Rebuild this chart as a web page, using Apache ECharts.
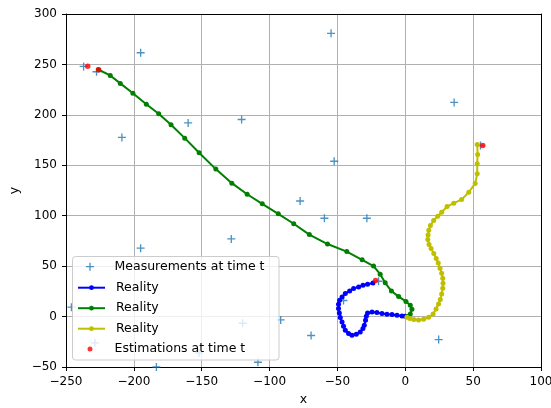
<!DOCTYPE html>
<html>
<head>
<meta charset="utf-8">
<script src="https://cdn.jsdelivr.net/npm/echarts@6/dist/echarts.min.js"></script>
<style>
  html, body { margin: 0; padding: 0; background: #fff; }
  #chart { width: 551px; height: 408px; }
</style>
</head>
<body>
<div id="chart"></div>
<script>
// Noisy position measurements collected over time
const measX = [-237, -227.5, -195, -208.8, -160, -120.6, -77.5, -54.7, 36, -52.4, 55.4, -59.6, -28.3,
               -45.5, -69.4, 24.6, -19.7, -195, -128.2, -246, -228.7, -119.9, -91.8, -108.6, -152, -183.4];
const measY = [248, 242.7, 261.6, 177.6, 192, 195.4, 114.6, 280.8, 212.3, 154, 169.6, 97.5, 97.5,
               15.9, -18.8, -22.8, 35, 67.8, 77, 9.3, -26, -6.6, -3.3, -45.3, -36, -50];

// True trajectories of the three targets
const blueX = [0, -2.4, -6.1, -9.8, -13.5, -17.2, -20.9, -24.5, -27.8, -28.7, -29.3, -30.2, -31.2, -33.2,
               -36.1, -39.3, -41.8, -44.2, -45.5, -46.6, -47.9, -48.6, -49.2, -49.2, -48.4, -46.6, -44.2,
               -41, -38.1, -34.4, -31.2, -27.8, -23.8];
const blueY = [0.3, 0.6, 1.3, 2, 2.3, 3, 4, 4.6, 3.6, 0.3, -3.7, -8.6, -11.9, -15.3,
               -17.5, -18.5, -16.9, -13.6, -9.6, -5.4, -1, 3.6, 7.9, 12.2, 16.2, 19.4, 22.8,
               25.4, 27.8, 29.4, 31, 32, 33.3];

const greenX = [-226, -217.4, -210, -200.7, -190.8, -181.7, -172.6, -162.5, -151.9, -139.6, -127.8,
                -116.5, -105.4, -93.6, -82.2, -70.7, -57.3, -43.1, -31.8, -23.4, -18.5, -14.8, -10.2,
                -4.9, 0.5, 3.7, 4.9, 3.7, 1.5];
const greenY = [244.7, 239.1, 231.2, 221.5, 210.6, 201.1, 190.2, 176.9, 162.4, 146.2, 132.3,
                121.3, 111.8, 101.9, 92, 81.3, 71.9, 64.4, 56.3, 50.1, 42, 33.5, 25.3,
                19.8, 15, 11.2, 7.2, 2.6, 0];

const yellowX = [1.2, 3.4, 6.3, 9.8, 13.5, 17.2, 20.5, 22.7, 24.5, 25.8, 26.8, 27.6, 27.8, 27.6, 26.8,
                 25.6, 24.3, 22.8, 21, 19, 17.5, 16.6, 16.8, 17.3, 18.5, 20.9, 23.9, 26.8, 30.8, 35.7,
                 41.5, 46.8, 51.5, 53, 53, 53.3, 53];
const yellowY = [-0.7, -2, -3, -3.3, -2.6, -0.7, 2.6, 7.6, 12.5, 17, 22.5, 28, 33, 38, 43,
                 48, 53, 57.5, 62.5, 67.5, 71.5, 76.5, 81, 85.5, 90.3, 95.2, 99.5, 103.5, 109.1, 112.4,
                 116, 123.3, 132, 141.5, 151.5, 160.7, 170.5];

// Filter estimates at time t
const estX = [-234, -226, -21.9, 57.1];
const estY = [248.3, 244.7, 35.7, 169.6];

// Axis ranges and tick spacing
const xRange = [-250, 100];
const yRange = [-50, 300];
const tickStep = 50;

const pairs = (xs, ys) => xs.map((x, i) => [x, ys[i]]);
const minus = v => String(v).replace('-', '\u2212');

const FONT = 'DejaVu Sans';
// thin "+" marker
const PLUS = 'path://M3.75,0h1.5v3.75h3.75v1.5h-3.75v3.75h-1.5v-3.75h-3.75v-1.5h3.75z';

const lineSeries = (name, xs, ys, color) => ({
  name, type: 'line', data: pairs(xs, ys),
  symbol: 'circle', symbolSize: 5, showSymbol: true,
  lineStyle: { color, width: 2 },
  itemStyle: { color },
  z: 3, animation: false, silent: true
});

const textStyle = { fontFamily: FONT, fontSize: 12.5, color: '#000', lineHeight: 14, padding: [0, 0, 0, 6] };
const legendBase = {
  orient: 'vertical', left: 77, padding: 0, itemWidth: 27,
  textStyle, z: 6, selectedMode: false,
  formatter: n => n.replace(/ \d+$/, '')
};

const chart = echarts.init(document.getElementById('chart'), null, { renderer: 'canvas' });
chart.setOption({
  backgroundColor: '#fff',
  animation: false,
  grid: { left: 66, top: 14, width: 475, height: 353, show: false, outerBoundsMode: 'none', containLabel: false },
  xAxis: [{
    type: 'value', min: xRange[0], max: xRange[1], interval: tickStep,
    name: 'x', nameLocation: 'middle', nameGap: 24,
    nameTextStyle: { fontFamily: FONT, fontSize: 12.5, color: '#000' },
    axisLine: { show: true, onZero: false, lineStyle: { color: '#000', width: 1 } },
    axisTick: { show: true, inside: false, length: 4, lineStyle: { color: '#000', width: 1 } },
    axisLabel: { margin: 9, fontFamily: FONT, fontSize: 12, color: '#000', formatter: minus },
    splitLine: { show: true, showMinLine: false, showMaxLine: false, lineStyle: { color: '#b0b0b0', width: 1 } }
  }, {
    type: 'value', position: 'top', min: xRange[0], max: xRange[1], interval: tickStep,
    axisLine: { show: true, onZero: false, lineStyle: { color: '#000', width: 1 } },
    axisTick: { show: false }, axisLabel: { show: false }, splitLine: { show: false }
  }],
  yAxis: [{
    type: 'value', min: yRange[0], max: yRange[1], interval: tickStep,
    name: 'y', nameLocation: 'middle', nameGap: 43,
    nameTextStyle: { fontFamily: FONT, fontSize: 12.5, color: '#000' },
    axisLine: { show: true, onZero: false, lineStyle: { color: '#000', width: 1 } },
    axisTick: { show: true, inside: false, length: 4, lineStyle: { color: '#000', width: 1 } },
    axisLabel: { margin: 9, fontFamily: FONT, fontSize: 12, color: '#000', formatter: minus },
    splitLine: { show: true, showMinLine: false, showMaxLine: false, lineStyle: { color: '#b0b0b0', width: 1 } }
  }, {
    type: 'value', position: 'right', min: yRange[0], max: yRange[1], interval: tickStep,
    axisLine: { show: true, onZero: false, lineStyle: { color: '#000', width: 1 } },
    axisTick: { show: false }, axisLabel: { show: false }, splitLine: { show: false }
  }],
  graphic: [{
    type: 'rect', z: 5, silent: true,
    shape: { x: 72.5, y: 256.5, width: 206.5, height: 103.5, r: 3 },
    style: { fill: 'rgba(255,255,255,0.8)', stroke: '#cccccc', lineWidth: 1 }
  }],
  legend: [
    Object.assign({}, legendBase, { left: 86, top: 259.7, itemHeight: 8, data: ['Measurements at time t'] }),
    Object.assign({}, legendBase, { top: 280.7, itemHeight: 6, itemGap: 6.5,
      data: ['Reality 1', 'Reality 2', 'Reality 3'] }),
    Object.assign({}, legendBase, { left: 87.5, top: 342, itemHeight: 5, data: ['Estimations at time t'] })
  ],
  series: [
    {
      name: 'Measurements at time t', type: 'scatter', data: pairs(measX, measY),
      symbol: PLUS, symbolSize: 8, itemStyle: { color: '#1f77b4' }, z: 2, silent: true
    },
    lineSeries('Reality 1', blueX, blueY, '#0000ff'),
    lineSeries('Reality 2', greenX, greenY, '#008000'),
    lineSeries('Reality 3', yellowX, yellowY, '#bfbf00'),
    {
      name: 'Estimations at time t', type: 'scatter', data: pairs(estX, estY),
      symbol: 'circle', symbolSize: 5.5, itemStyle: { color: '#ff0000' }, z: 4, silent: true
    }
  ]
});
</script>
</body>
</html>
